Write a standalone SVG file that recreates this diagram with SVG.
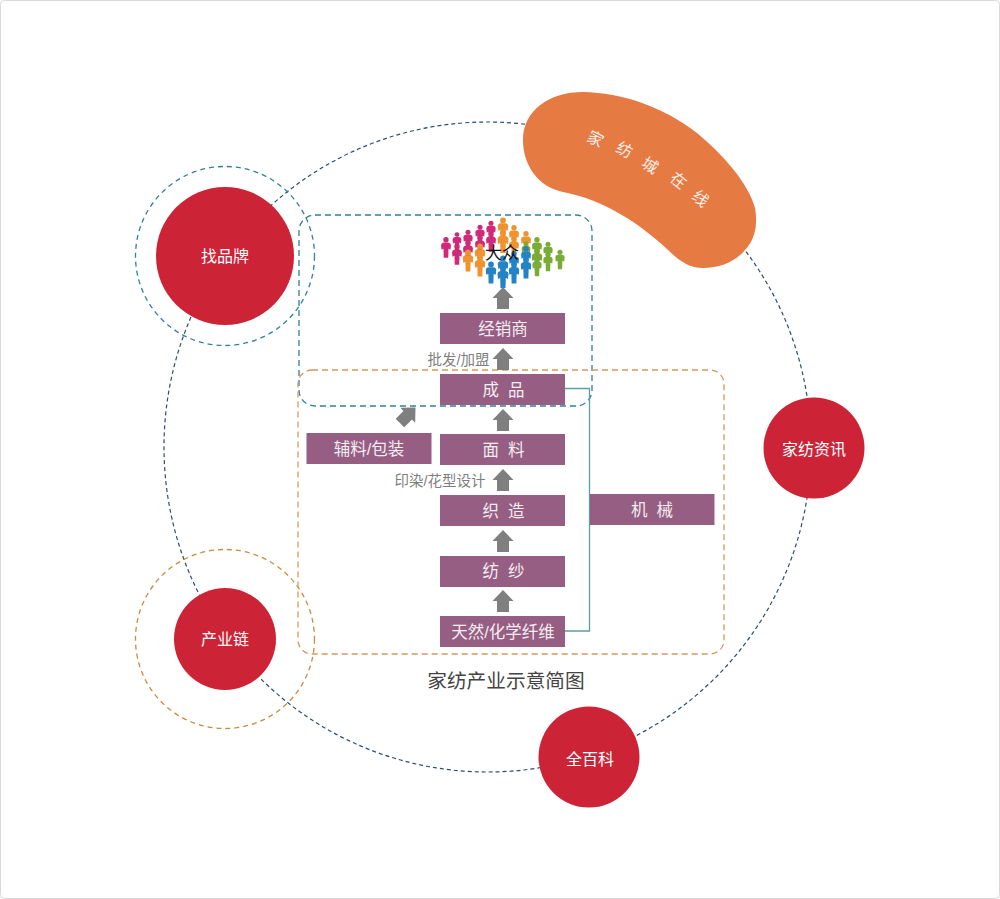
<svg xmlns="http://www.w3.org/2000/svg" width="1000" height="899" viewBox="0 0 1000 899">
<style>
text{font-family:"Liberation Sans","Noto Sans CJK SC",sans-serif;text-anchor:middle}
.bar{fill:#965e83}
.bt{fill:#f4edf2;font-size:16.500px}
.ct{fill:#fff;font-size:16px}
.gt{fill:#7f7f7f;font-size:14.500px}
.red{fill:#cd2337}
.arr{fill:#7f7f7f}
.bl2{fill:#f8efe8;font-size:16px}
.pk{fill:#cf2a78}.or{fill:#ee9330}.gn{fill:#79ab36}.bl{fill:#2383c4}
</style>
<defs>
<g id="arrow"><path d="M0 0L10.500 11H6V22H-6V11H-10.500Z"/></g>
<g id="man"><circle cx="0" cy="-8" r="3"/><path d="M-2.500 -5H2.500Q5.500 -4.500 5.500 -2L5 3L2.800 2L2.500 12H-2.500L-2.800 2L-5 3L-5.500 -2Q-5.500 -4.500 -2.500 -5Z"/></g>
</defs>
<rect x="0.500" y="0.500" width="999" height="898" rx="4" fill="#fff" stroke="#d9d9d9"/>
<g id="connectors" fill="none">
<ellipse cx="487.500" cy="447" rx="323.500" ry="325" stroke="#2b4e72" stroke-width="1.200" stroke-dasharray="4 3"/>
<circle cx="225" cy="256" r="89.500" stroke="#2f8397" stroke-width="1.300" stroke-dasharray="5 4"/>
<circle cx="225" cy="639" r="89.500" stroke="#c98b3f" stroke-width="1.300" stroke-dasharray="5 4"/>
<rect x="299" y="215" width="293" height="191" rx="16" stroke="#2f7f9f" stroke-width="1.300" stroke-dasharray="6 4"/>
<rect x="298" y="370" width="426" height="284" rx="14" stroke="#d49a5c" stroke-width="1.300" stroke-dasharray="6 4"/>
<path d="M565 388.500H589.500V631H565" stroke="#5f9ea0" stroke-width="1.300"/>
</g>
<g id="crowd">
<use href="#man" class="pk" transform="translate(446 247) scale(.9)"/>
<use href="#man" class="pk" transform="translate(457 241) scale(.8)"/>
<use href="#man" class="pk" transform="translate(457 254) scale(.9)"/>
<use href="#man" class="pk" transform="translate(468 239) scale(.85)"/>
<use href="#man" class="pk" transform="translate(468 250) scale(.9)"/>
<use href="#man" class="pk" transform="translate(480 234) scale(.85)"/>
<use href="#man" class="pk" transform="translate(480 245) scale(.9)"/>
<use href="#man" class="pk" transform="translate(491 230) scale(.85)"/>
<use href="#man" class="pk" transform="translate(491 241) scale(.9)"/>
<use href="#man" class="or" transform="translate(503 228) scale(.95)"/>
<use href="#man" class="or" transform="translate(503 241) scale(1)"/>
<use href="#man" class="or" transform="translate(514 235) scale(.9)"/>
<use href="#man" class="or" transform="translate(514 246) scale(.9)"/>
<use href="#man" class="or" transform="translate(526 241) scale(.9)"/>
<use href="#man" class="or" transform="translate(468 260) scale(.95)"/>
<use href="#man" class="or" transform="translate(480 254) scale(.95)"/>
<use href="#man" class="or" transform="translate(480 265) scale(.95)"/>
<use href="#man" class="gn" transform="translate(526 250) scale(.8)"/>
<use href="#man" class="gn" transform="translate(537 247) scale(.9)"/>
<use href="#man" class="gn" transform="translate(537 258) scale(.95)"/>
<use href="#man" class="gn" transform="translate(537 266) scale(.85)"/>
<use href="#man" class="gn" transform="translate(548 251) scale(.85)"/>
<use href="#man" class="gn" transform="translate(548 261) scale(.85)"/>
<use href="#man" class="gn" transform="translate(560 259) scale(.85)"/>
<use href="#man" class="bl" transform="translate(491 272) scale(.95)"/>
<use href="#man" class="bl" transform="translate(503 266) scale(.95)"/>
<use href="#man" class="bl" transform="translate(503 276) scale(1)"/>
<use href="#man" class="bl" transform="translate(514 261) scale(.9)"/>
<use href="#man" class="bl" transform="translate(514 272) scale(.95)"/>
<use href="#man" class="bl" transform="translate(526 256) scale(.9)"/>
<use href="#man" class="bl" transform="translate(526 267) scale(.95)"/>
<text x="502" y="259" font-size="17" style="fill:#111">大众</text>
</g>
<g id="arrows" class="arr">
<use href="#arrow" x="503" y="287"/>
<use href="#arrow" x="503" y="348"/>
<use href="#arrow" x="503" y="409"/>
<use href="#arrow" x="503" y="469"/>
<use href="#arrow" x="503" y="530"/>
<use href="#arrow" x="503" y="590"/>
<use href="#arrow" transform="translate(415.500 407.500) rotate(45)"/>
</g>
<g id="node-jingxiaoshang"><rect class="bar" x="440" y="313" width="125" height="31"/><text class="bt" x="503" y="335">经销商</text></g>
<g id="node-chengpin"><rect class="bar" x="440" y="374" width="125" height="31"/><text class="bt" x="503.500" y="396" xml:space="preserve">成  品</text></g>
<g id="node-mianliao"><rect class="bar" x="440" y="434" width="125" height="31"/><text class="bt" x="503.500" y="456" xml:space="preserve">面  料</text></g>
<g id="node-zhizao"><rect class="bar" x="440" y="495" width="125" height="31"/><text class="bt" x="503.500" y="517" xml:space="preserve">织  造</text></g>
<g id="node-fangsha"><rect class="bar" x="440" y="556" width="125" height="31"/><text class="bt" x="503.500" y="577" xml:space="preserve">纺  纱</text></g>
<g id="node-tianran"><rect class="bar" x="440" y="616" width="125" height="31"/><text class="bt" x="503" y="638">天然/化学纤维</text></g>
<g id="node-fuliao"><rect class="bar" x="306.500" y="433" width="125" height="31"/><text class="bt" x="369" y="455">辅料/包装</text></g>
<g id="node-jixie"><rect class="bar" x="590" y="494" width="124.500" height="31"/><text class="bt" x="652" y="516" xml:space="preserve">机  械</text></g>
<text class="gt" x="458.500" y="364.500">批发/加盟</text>
<text class="gt" x="440" y="485.500">印染/花型设计</text>
<g id="node-online">
<path fill="#e57a43" d="M583 92C622 93 662 106 697 133C725 156 749 185 755 208C758 224 755 240 745 250C735 262 720 268 703 268C688 268 677 259 667 249C640 224 605 200 563 192C538 187 523 165 523 140C523 110 550 92 583 92Z"/>
<text class="bl2" transform="translate(593 144) rotate(27)">家</text>
<text class="bl2" transform="translate(622 155) rotate(27)">纺</text>
<text class="bl2" transform="translate(647 170) rotate(33)">城</text>
<text class="bl2" transform="translate(675 185) rotate(38)">在</text>
<text class="bl2" transform="translate(697 203) rotate(40)">线</text>
</g>
<g id="node-brand"><circle class="red" cx="225" cy="256" r="69"/><text class="ct" x="225" y="262">找品牌</text></g>
<g id="node-chain"><circle class="red" cx="225" cy="639" r="51"/><text class="ct" x="225" y="645">产业链</text></g>
<g id="node-news"><circle class="red" cx="814" cy="448" r="50.500"/><text class="ct" x="814" y="455">家纺资讯</text></g>
<g id="node-wiki"><circle class="red" cx="589" cy="757" r="50.500"/><text class="ct" x="590" y="765">全百科</text></g>
<text x="506" y="688" font-size="19.700" style="fill:#444">家纺产业示意简图</text>
</svg>
